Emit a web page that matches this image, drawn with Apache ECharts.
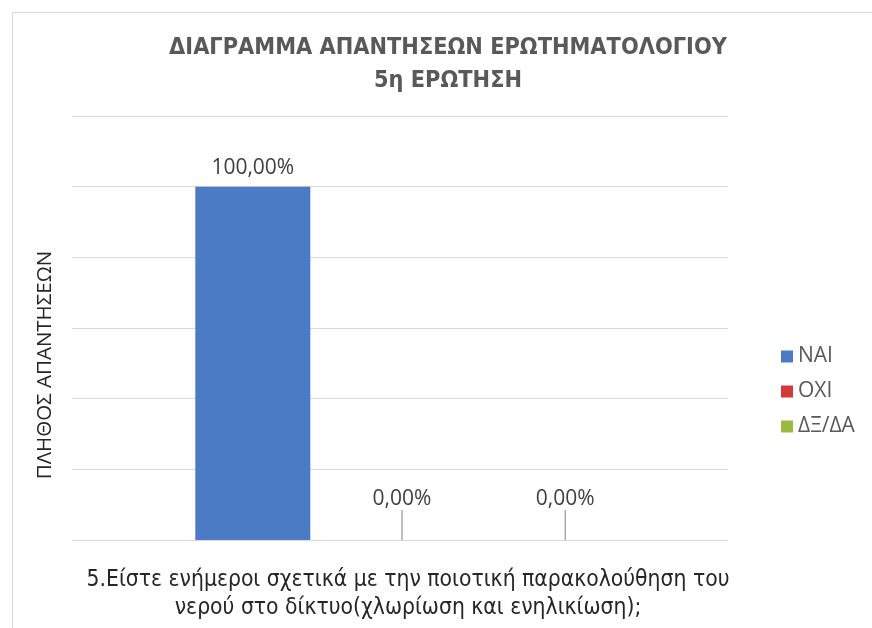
<!DOCTYPE html>
<html><head><meta charset="utf-8">
<script src="https://cdn.jsdelivr.net/npm/echarts@6/dist/echarts.min.js"></script>
<style>html,body{margin:0;padding:0;background:#fff}#c{width:872px;height:628px}</style>
</head><body><div id="c"></div>
<script>
const titleLines = ['ΔΙΑΓΡΑΜΜΑ ΑΠΑΝΤΗΣΕΩΝ ΕΡΩΤΗΜΑΤΟΛΟΓΙΟΥ', '5η ΕΡΩΤΗΣΗ'];
const yAxisName = 'ΠΛΗΘΟΣ ΑΠΑΝΤΗΣΕΩΝ';
const xAxisNameLines = ['5.Είστε ενήμεροι σχετικά με την ποιοτική παρακολούθηση του', 'νερού στο δίκτυο(χλωρίωση και ενηλικίωση);'];
const categories = ['5η ερώτηση'];
const seriesNames = ['ΝΑΙ', 'ΟΧΙ', 'ΔΞ/ΔΑ'];
const seriesValues = [[1.0], [0.0], [0.0]];
const colors = ['#4a7bc4', '#cf3a3a', '#9bbb3f'];
const labelShifts = [[0, 0], [2, -18], [18, -18]];

const narrow = '"DejaVu Sans Condensed", "Open Sans", sans-serif';
const chart = echarts.init(document.getElementById('c'));
chart.setOption({
  animation: false,
  backgroundColor: '#fff',
  color: colors,
  legend: {
    orient: 'vertical', left: 776, top: 341, itemGap: 14,
    itemWidth: 12, itemHeight: 12, icon: 'rect',
    textStyle: {fontFamily: '"Open Sans", sans-serif', fontSize: 21, color: '#595959'},
    data: seriesNames
  },
  grid: {left: 72, right: 144, top: 116, bottom: 88},
  xAxis: {
    type: 'category', data: categories,
    axisLine: {show: true, lineStyle: {color: '#d9d9d9'}},
    axisTick: {show: false}, axisLabel: {show: false}
  },
  yAxis: {
    type: 'value', min: 0, max: 1.2, interval: 0.2,
    axisLabel: {show: false}, axisLine: {show: false}, axisTick: {show: false},
    splitLine: {lineStyle: {color: '#d9d9d9', width: 1}}
  },
  series: seriesNames.map((n, i) => ({
    name: n, type: 'bar', data: seriesValues[i],
    barWidth: 115, barGap: '28%',
    itemStyle: {color: colors[i]},
    label: {
      show: true, position: 'top', distance: 8,
      padding: i > 0 ? [0, 0, 4, 0] : 0,
      formatter: p => (p.value * 100).toFixed(2).replace('.', ',') + '%',
      fontFamily: '"Open Sans", sans-serif', fontSize: 21, color: '#404040'
    },
    labelLayout: {dx: labelShifts[i][0], dy: labelShifts[i][1]},
    labelLine: {show: i > 0, lineStyle: {color: '#7f7f7f', width: 1}}
  })),
  graphic: [
    {type: 'rect', left: 10, top: 10, shape: {width: 900, height: 700}, style: {fill: 'none', stroke: '#d9d9d9', lineWidth: 1}, silent: true, z: -1},
    {type: 'text', x: 448, y: 64,
      style: {text: titleLines.join('\n'), fontFamily: narrow, fontSize: 23.3, fontWeight: 'bold', lineHeight: 33, fill: '#595959', align: 'center', verticalAlign: 'middle'}},
    {type: 'text', x: 45, y: 365, rotation: Math.PI / 2,
      style: {text: yAxisName, fontFamily: '"Open Sans", sans-serif', fontSize: 20.5, fill: '#262626', align: 'center', verticalAlign: 'middle'}},
    {type: 'text', x: 408, y: 594,
      style: {text: xAxisNameLines.join('\n'), fontFamily: narrow, fontSize: 22.7, lineHeight: 28, fill: '#262626', align: 'center', verticalAlign: 'middle'}}
  ]
});
</script></body></html>
